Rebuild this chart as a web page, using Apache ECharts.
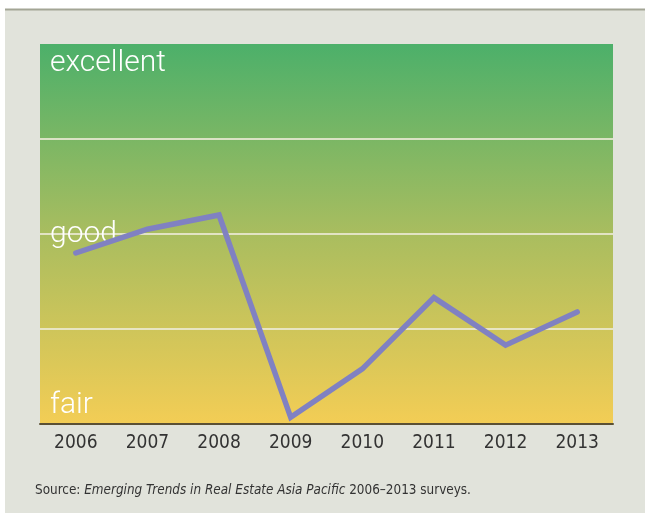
<!DOCTYPE html>
<html>
<head>
<meta charset="utf-8">
<style>
html,body{margin:0;padding:0;background:#ffffff;}
#chart{width:645px;height:513px;}
</style>
<script src="https://cdn.jsdelivr.net/npm/echarts@6/dist/echarts.min.js"></script>
</head>
<body>
<div id="chart"></div>
<script>
const years = ['2006','2007','2008','2009','2010','2011','2012','2013'];
const sentiment = [1.80, 2.05, 2.20, 0.07, 0.58, 1.33, 0.83, 1.18];
const levelLabels = {0:'fair', 2:'good', 4:'excellent'};
const sourcePrefix = 'Source: ';
const sourceTitle = 'Emerging Trends in Real Estate Asia Pacific';
const sourceSuffix = ' 2006\u20132013 surveys.';

const narrow = '"Liberation Sans Narrow","DejaVu Sans Condensed","Liberation Sans",sans-serif';
const light = 'Roboto,"Liberation Sans",sans-serif';
const chart = echarts.init(document.getElementById('chart'), null, {renderer:'canvas'});
chart.setOption({
  animation:false,
  backgroundColor:'#ffffff',
  graphic:[
    {type:'rect', z:-10, shape:{x:5,y:9,width:640,height:504}, style:{fill:'#e1e3db'}},
    {type:'line', z:-9, shape:{x1:5,y1:9.5,x2:645,y2:9.5}, style:{stroke:'#a3a595',lineWidth:2}}
  ],
  title:{
    left:30, top:479,
    text:'{a|'+sourcePrefix+'}{b|'+sourceTitle+'}{a|'+sourceSuffix+'}',
    textStyle:{
      fontWeight:'normal',
      rich:{
        a:{fontFamily:narrow,fontSize:13.4,fontWeight:'normal',color:'#333333'},
        b:{fontFamily:narrow,fontSize:13.4,fontWeight:'normal',color:'#333333',fontStyle:'italic'}
      }
    }
  },
  grid:{
    left:40, right:32, top:44, bottom:89,
    show:true, borderWidth:0,
    backgroundColor:new echarts.graphic.LinearGradient(0,0,0,1,[
      {offset:0,color:'#4cb06a'},
      {offset:0.5,color:'#a9bd5f'},
      {offset:1,color:'#f3cd55'}
    ])
  },
  xAxis:{
    type:'category', data:years, boundaryGap:true,
    axisLine:{lineStyle:{color:'#5a5034',width:2}},
    axisTick:{inside:true,length:7,lineStyle:{color:'#5a5034',width:2}},
    axisLabel:{color:'#333333',fontFamily:narrow,fontSize:19,margin:10}
  },
  yAxis:{
    type:'value', min:0, max:4, interval:1,
    axisLine:{show:false}, axisTick:{show:false},
    splitLine:{show:true,showMinLine:false,showMaxLine:false,lineStyle:{color:'rgba(236,234,214,0.85)',width:2}},
    axisLabel:{
      inside:true, margin:10, color:'#ffffff',
      fontFamily:light, fontWeight:300, fontSize:30,
      formatter:function(v){
        if(v===4) return '{ex|'+levelLabels[4]+'}';
        if(v===2) return '{g|'+levelLabels[2]+'}';
        if(v===0) return '{f|'+levelLabels[0]+'}';
        return '';
      },
      rich:{
        ex:{color:'#ffffff',fontSize:30,fontWeight:300,fontFamily:light,lineHeight:30,padding:[38,0,0,0]},
        g:{color:'#ffffff',fontSize:30,fontWeight:300,fontFamily:light,lineHeight:30},
        f:{color:'#ffffff',fontSize:30,fontWeight:300,fontFamily:light,lineHeight:30,padding:[0,0,38,0]}
      }
    }
  },
  series:[{
    type:'line', data:sentiment, symbol:'none', z:5,
    lineStyle:{color:'#8081c2',width:5.5,cap:'round',join:'miter'}
  }]
});
</script>
</body>
</html>
